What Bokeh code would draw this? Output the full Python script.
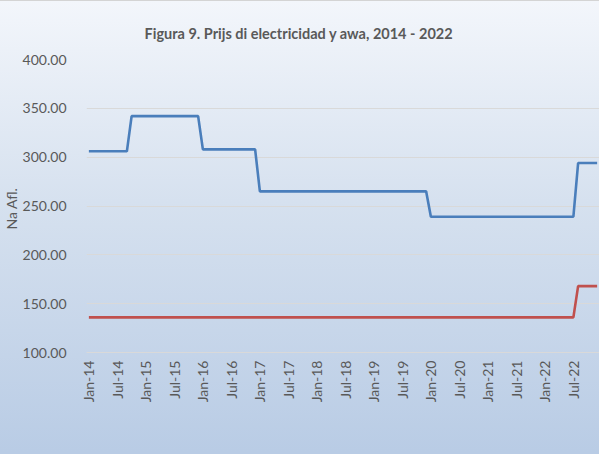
from bokeh.plotting import figure
from bokeh.models import Range1d, FixedTicker, Legend, LegendItem, Title, ColumnDataSource
from bokeh.embed import file_html
from bokeh.resources import INLINE

# Monthly values, Jan-14 .. Dec-22 (Afl.)
electricidad = [
    306, 306, 306, 306, 306, 306, 306, 306, 306, 342, 342, 342,  # 2014
    342, 342, 342, 342, 342, 342, 342, 342, 342, 342, 342, 342,  # 2015
    308, 308, 308, 308, 308, 308, 308, 308, 308, 308, 308, 308,  # 2016
    265, 265, 265, 265, 265, 265, 265, 265, 265, 265, 265, 265,  # 2017
    265, 265, 265, 265, 265, 265, 265, 265, 265, 265, 265, 265,  # 2018
    265, 265, 265, 265, 265, 265, 265, 265, 265, 265, 265, 265,  # 2019
    239, 239, 239, 239, 239, 239, 239, 239, 239, 239, 239, 239,  # 2020
    239, 239, 239, 239, 239, 239, 239, 239, 239, 239, 239, 239,  # 2021
    239, 239, 239, 239, 239, 239, 239, 294, 294, 294, 294, 294,  # 2022
]
awa = [
    136, 136, 136, 136, 136, 136, 136, 136, 136, 136, 136, 136,  # 2014
    136, 136, 136, 136, 136, 136, 136, 136, 136, 136, 136, 136,  # 2015
    136, 136, 136, 136, 136, 136, 136, 136, 136, 136, 136, 136,  # 2016
    136, 136, 136, 136, 136, 136, 136, 136, 136, 136, 136, 136,  # 2017
    136, 136, 136, 136, 136, 136, 136, 136, 136, 136, 136, 136,  # 2018
    136, 136, 136, 136, 136, 136, 136, 136, 136, 136, 136, 136,  # 2019
    136, 136, 136, 136, 136, 136, 136, 136, 136, 136, 136, 136,  # 2020
    136, 136, 136, 136, 136, 136, 136, 136, 136, 136, 136, 136,  # 2021
    136, 136, 136, 136, 136, 136, 136, 168, 168, 168, 168, 168,  # 2022
]
tick_labels = ["Jan-14", "Jul-14", "Jan-15", "Jul-15", "Jan-16", "Jul-16",
               "Jan-17", "Jul-17", "Jan-18", "Jul-18", "Jan-19", "Jul-19",
               "Jan-20", "Jul-20", "Jan-21", "Jul-21", "Jan-22", "Jul-22"]
y_ticks = [100, 150, 200, 250, 300, 350, 400]

months = list(range(len(electricidad)))
tick_pos = [i * 6 for i in range(len(tick_labels))]

FONT = "Lato"
GREY = "#595959"

src = ColumnDataSource(dict(x=months, e=electricidad, a=awa))

p = figure(frame_width=513, frame_height=293, output_backend="svg", toolbar_location=None,
           x_range=Range1d(-0.5, len(months) - 0.5), y_range=Range1d(100, 400),
           min_border_left=80, min_border_right=0, min_border_top=58,
           min_border_bottom=0,
           background_fill_color=None, border_fill_color=None,
           outline_line_color=None,
           styles={"background": "linear-gradient(180deg, #f3f6fb 0px, #d6e1ef 200px, #b9cce5 450px, #b9cce5 100%)",
                   "border-top": "1px solid #d4d4d4"})

p.add_layout(Title(text="Figura 9. Prijs di electricidad y awa, 2014 - 2022",
                   text_font=FONT, text_font_size="14.5px", text_font_style="bold",
                   text_color=GREY, align="left", offset=58, standoff=36), "above")

l1 = p.line("x", "e", source=src, line_color="#4a7ebb", line_width=2.6)
l2 = p.line("x", "a", source=src, line_color="#c0504d", line_width=2.6)

p.xaxis.ticker = FixedTicker(ticks=tick_pos)
p.xaxis.major_label_overrides = {t: lab for t, lab in zip(tick_pos, tick_labels)}
p.xaxis.major_label_orientation = 1.5708
p.xaxis.axis_line_color = "#d9d9d9"
p.xaxis.major_tick_line_color = None
p.xaxis.minor_tick_line_color = None
p.xaxis.major_tick_out = 0
p.xaxis.minor_tick_out = 0
p.xaxis.major_label_text_font = FONT
p.xaxis.major_label_text_font_size = "14px"
p.xaxis.major_label_text_color = GREY
p.xaxis.major_label_standoff = 8

p.yaxis.ticker = FixedTicker(ticks=y_ticks)
p.yaxis.major_label_overrides = {v: f"{v:.2f}" for v in y_ticks}
p.yaxis.axis_line_color = None
p.yaxis.major_tick_line_color = None
p.yaxis.minor_tick_line_color = None
p.yaxis.major_label_text_font = FONT
p.yaxis.major_label_text_font_size = "14px"
p.yaxis.major_label_text_color = GREY
p.yaxis.major_label_standoff = 14

p.add_layout(Title(text="Na Afl.", text_font=FONT, text_font_size="14px",
                   text_font_style="normal", text_color=GREY,
                   align="left", offset=123, standoff=0), "left")

p.xgrid.grid_line_color = None
p.ygrid.grid_line_color = "#d9d9d9"
p.ygrid.grid_line_width = 1.2

legend = Legend(items=[LegendItem(label="Electricidad", renderers=[l1]),
                       LegendItem(label="Awa", renderers=[l2])],
                orientation="horizontal", location="top_center",
                background_fill_alpha=0, border_line_color=None,
                label_text_font=FONT, label_text_font_size="14px",
                label_text_color=GREY, glyph_width=35, glyph_height=20,
                label_standoff=5, label_width=91, spacing=0, padding=0, margin=20)
p.add_layout(legend, "below")

open("out.html", "w").write(file_html(p, INLINE))
